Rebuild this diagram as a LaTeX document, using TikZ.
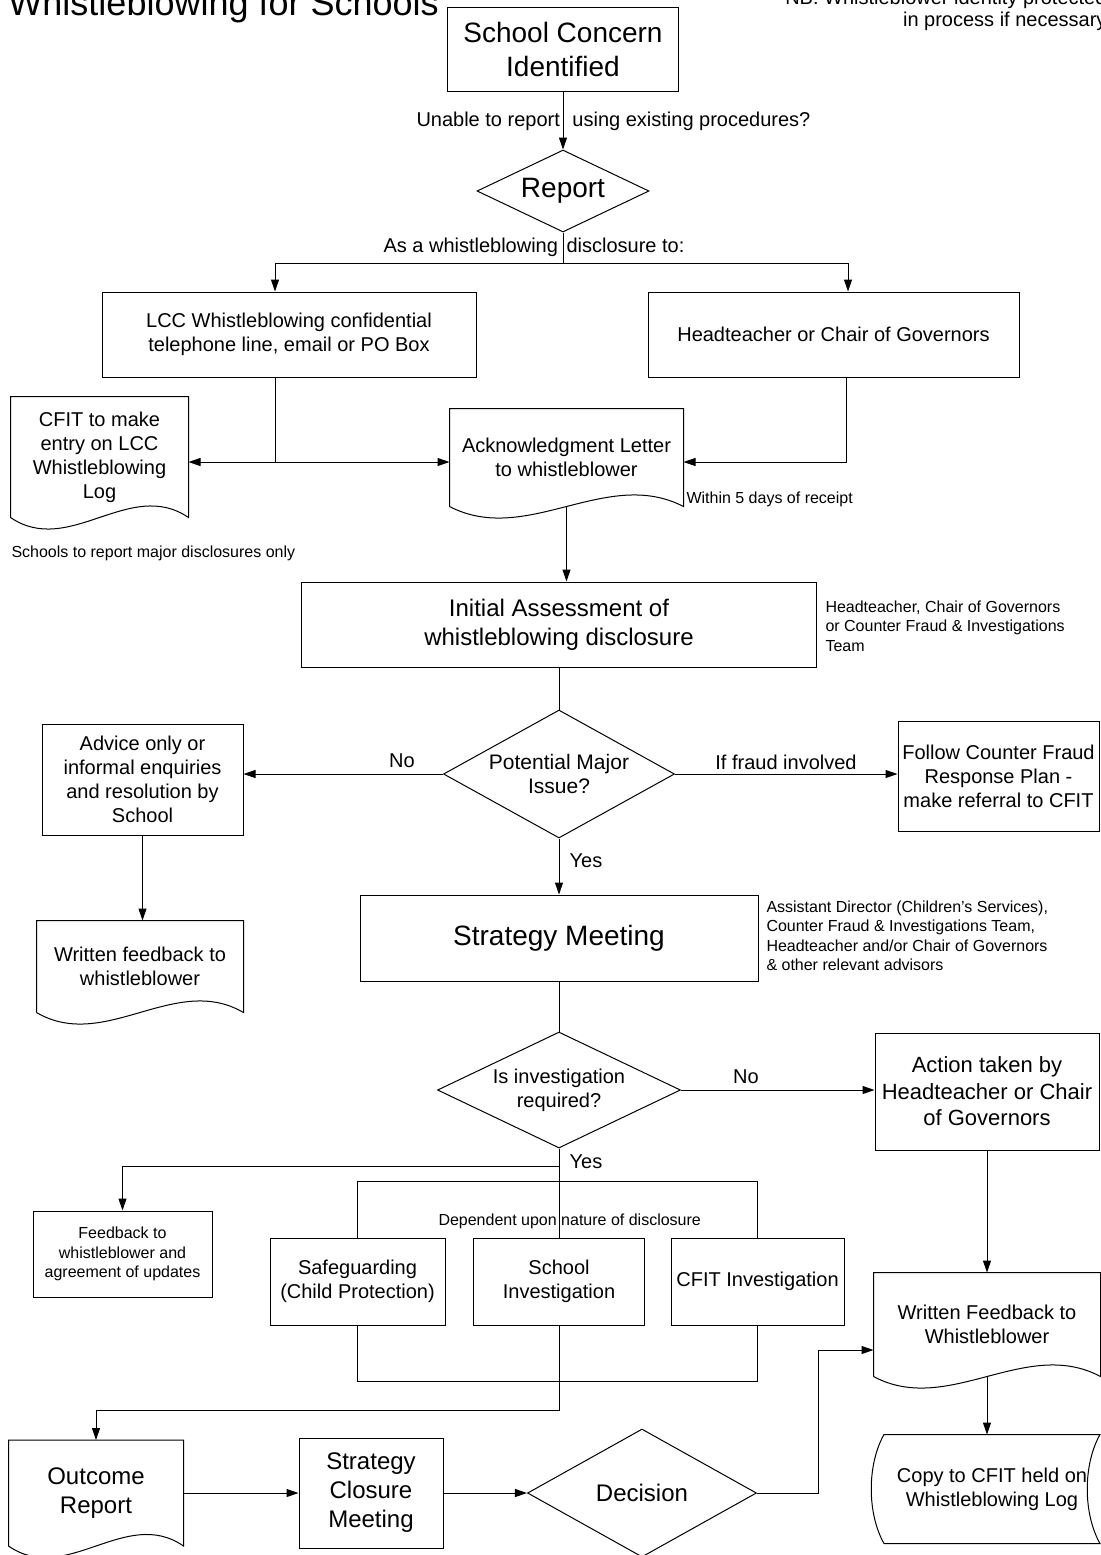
\documentclass[tikz,border=0pt]{standalone}
\usepackage{fontspec}
\setmainfont{Liberation Sans}
\usetikzlibrary{shapes.geometric,arrows.meta,calc}

% outline of a document node: three straight sides and a wavy bottom
\newcommand{\docpath}[1]{%
  \draw (#1.south west) -- (#1.north west) -- (#1.north east) -- (#1.south east)
    .. controls ($(#1.south west)!0.67!(#1.south east)+(0,-40)$)
    and ($(#1.south west)!0.33!(#1.south east)+(0,40)$) .. (#1.south west);}

\begin{document}
\begin{tikzpicture}[x=0.5pt,y=-0.5pt,line width=0.5pt,
  box/.style={draw,rectangle,align=center,inner sep=0pt},
  docbox/.style={rectangle,align=center,inner sep=0pt},
  dia/.style={draw,diamond,align=center,inner sep=0pt},
  note/.style={inner sep=0pt,align=left},
  arr/.style={-{Triangle[length=6pt,width=4pt]}},
  fbig/.style={font=\fontsize{14}{17}\selectfont},
  fmid/.style={font=\fontsize{12}{14.5}\selectfont},
  fact/.style={font=\fontsize{11}{13.25}\selectfont},
  fstd/.style={font=\fontsize{10}{12}\selectfont},
  fsml/.style={font=\fontsize{8}{9.75}\selectfont}]
\useasboundingbox (0,0) rectangle (1101,1555);
\clip (0,0) rectangle (1101,1555);

\node[note,anchor=base west,font=\fontsize{18}{21}\selectfont] (title) at (8,15) {Whistleblowing for Schools};
\node[inner sep=0pt,anchor=south east,align=right,font=\fontsize{10}{11}\selectfont] (nb) at (1107,31) {NB: Whistleblower identity protected\\in process if necessary};

% top part
\node[box,fbig,minimum width=115.5pt,minimum height=42pt] (concern) at (563,49) {School Concern\\Identified};
\node[note,fstd,anchor=base west] (unable) at (416,126) {Unable to report\hspace{0.63em}using existing procedures?};
\node[dia,fbig,shape aspect=2.1,minimum width=86pt,minimum height=41pt] (report) at (563,191) {Report};
\node[note,fstd,anchor=base west] (discl) at (383,252) {As a whistleblowing\hspace{0.43em}disclosure to:};
\node[box,fstd,minimum width=187pt,minimum height=42.5pt] (lcc) at (289,334.5) {LCC Whistleblowing confidential\\telephone line, email or PO Box};
\node[box,fstd,minimum width=185.5pt,minimum height=42.5pt] (head) at (833.5,334.5) {Headteacher or Chair of Governors};
\node[docbox,fstd,minimum width=88.5pt,minimum height=60pt] (cfit) at (99.5,457) {CFIT to make\\entry on LCC\\Whistleblowing\\Log};
\node[docbox,fstd,minimum width=116.5pt,minimum height=48.5pt] (ack) at (566.5,457.5) {Acknowledgment Letter\\to whistleblower};
\node[note,fsml,anchor=base west] (within) at (686,503) {Within 5 days of receipt};
\node[note,fsml,anchor=base west] (major) at (11,557) {Schools to report major disclosures only};
\docpath{cfit}
\docpath{ack}

% assessment
\node[box,fmid,minimum width=257.5pt,minimum height=42.5pt] (initial) at (559,624.5) {Initial Assessment of\\whistleblowing disclosure};
\node[note,fsml,anchor=north west] (initnote) at (825,600) {Headteacher, Chair of Governors\\or Counter Fraud \& Investigations\\Team};
\node[dia,font=\fontsize{10.5}{12}\selectfont,shape aspect=1.8,minimum width=115.5pt,minimum height=64pt] (majq) at (559,774) {Potential Major\\Issue?};
\node[box,fstd,minimum width=100.5pt,minimum height=55.5pt] (advice) at (142.5,779.5) {Advice only or\\informal enquiries\\and resolution by\\School};
\node[box,fstd,minimum width=100.5pt,minimum height=55pt] (follow) at (998.5,776) {Follow Counter Fraud\\Response Plan -\\make referral to CFIT};
\node[box,fbig,minimum width=199pt,minimum height=43pt] (strategy) at (559,938) {Strategy Meeting};
\node[note,fsml,anchor=north west] (stratnote) at (766,900) {Assistant Director (Children's Services),\\Counter Fraud \& Investigations Team,\\Headteacher and/or Chair of Governors\\\& other relevant advisors};
\node[docbox,fstd,minimum width=103pt,minimum height=45.5pt] (wfb) at (140,966.5) {Written feedback to\\whistleblower};
\docpath{wfb}

% investigation
\node[dia,fstd,shape aspect=2.1,minimum width=121.5pt,minimum height=58pt] (invq) at (559,1090) {Is investigation\\required?};
\node[box,fact,minimum width=112pt,minimum height=58.5pt] (action) at (987,1091.5) {Action taken by\\Headteacher or Chair\\of Governors};
\node[box,fsml,minimum width=89.5pt,minimum height=43pt] (fbk) at (122.5,1254) {Feedback to\\whistleblower and\\agreement of updates};
\node[note,fsml,anchor=base west] (dep) at (438,1225) {Dependent upon nature of disclosure};
\node[box,fstd,minimum width=87.5pt,minimum height=43.5pt] (safe) at (357.5,1281.5) {Safeguarding\\(Child Protection)};
\node[box,fstd,minimum width=85.5pt,minimum height=43.5pt] (school) at (559,1281.5) {School\\Investigation};
\node[box,fstd,minimum width=86.5pt,minimum height=43.5pt] (cfitinv) at (757.5,1281.5) {CFIT Investigation};
\node[docbox,fstd,minimum width=113pt,minimum height=51.5pt] (wfb2) at (987,1324.5) {Written Feedback to\\Whistleblower};
\docpath{wfb2}
\node[docbox,fstd,minimum width=107.5pt,minimum height=54pt] (copy) at (992,1489) {Copy to CFIT held on\\Whistleblowing Log};
\draw (copy.north west) .. controls +(-17,30) and +(-17,-30) .. (copy.south west)
  -- (copy.south east) .. controls +(-17,-30) and +(-17,30) .. (copy.north east) -- cycle;

% closure
\node[docbox,fmid,minimum width=87pt,minimum height=52.5pt] (outcome) at (96,1493) {Outcome\\Report};
\docpath{outcome}
\node[box,fmid,minimum width=72pt,minimum height=55pt] (closure) at (371,1493) {Strategy\\Closure\\Meeting};
\node[dia,fmid,shape aspect=1.8,minimum width=114.5pt,minimum height=64pt] (decision) at (642,1493) {Decision};

% connector labels
\node[note,fstd] (lno) at (402,761) {No};
\node[note,fstd] (lfraud) at (786,762) {If fraud involved};
\node[note,fstd] (lyes) at (586,861) {Yes};
\node[note,fstd] (lnob) at (746,1077) {No};
\node[note,fstd] (lyesb) at (586,1162) {Yes};

% connectors
\coordinate (lccin) at (275,263);
\coordinate (headin) at (848,263);
\coordinate (lccout) at (275,462);
\coordinate (headout) at (846,462);
\coordinate (decup) at (818,1350);
\draw[arr] (concern) -- (report);
\draw[arr] (report.south) |- (lccin) -- (lccin |- lcc.north);
\draw[arr] (report.south) |- (headin) -- (headin |- head.north);
\draw[arr] (lccout |- lcc.south) -- (lccout) -- (lccout -| cfit.east);
\draw[arr] (lccout) -- (lccout -| ack.west);
\draw[arr] (headout |- head.south) -- (headout) -- (headout -| ack.east);
\draw[arr] (ack.south) -- (ack.south |- initial.north);
\draw (initial) -- (majq);
\draw[arr] (majq.west) -- (majq.west -| advice.east);
\draw[arr] (majq.east) -- (majq.east -| follow.west);
\draw[arr] (majq) -- (strategy);
\draw[arr] (advice.south) -- (advice.south |- wfb.north);
\draw (strategy) -- (invq);
\draw[arr] (invq.east) -- (invq.east -| action.west);
\draw[arr] (action) -- (wfb2);
\draw[arr] (invq.south) -- ++(0,18) -| (fbk.north);
\draw (invq) -- (school);
\draw (safe.north) -- ++(0,-56) -| (cfitinv.north);
\draw (safe.south) -- ++(0,56) -| (cfitinv.south);
\draw[arr] (school.south) -- ++(0,85) -| (outcome.north);
\draw[arr] (outcome.east) -- (closure.west);
\draw[arr] (closure) -- (decision);
\draw[arr] (decision.east) -| (decup) -- (decup -| wfb2.west);
\draw[arr] (wfb2.south) -- (wfb2.south |- copy.north);
\end{tikzpicture}
\end{document}
